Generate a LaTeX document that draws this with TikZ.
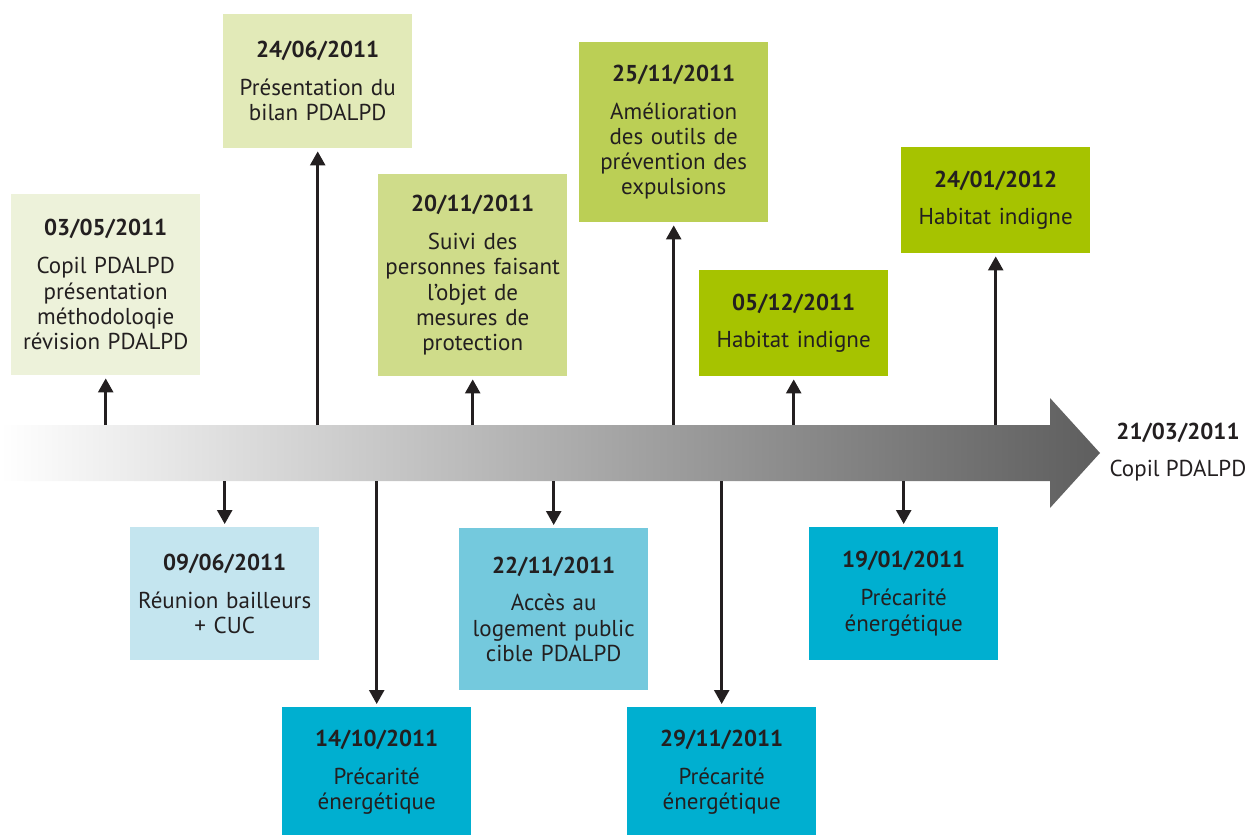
\documentclass[tikz,border=0pt]{standalone}
\usepackage{fontspec}
\setmainfont{PT Sans}
\usetikzlibrary{arrows.meta}
\definecolor{cA}{HTML}{EDF2DA}
\definecolor{cB}{HTML}{E2EAB8}
\definecolor{cC}{HTML}{CFDC8A}
\definecolor{cD}{HTML}{BBCF55}
\definecolor{cE}{HTML}{A6C300}
\definecolor{cF}{HTML}{C4E5EF}
\definecolor{cG}{HTML}{00AFD0}
\definecolor{cH}{HTML}{74C9DD}
\definecolor{ink}{HTML}{231F20}
\definecolor{barend}{HTML}{5E5E5E}
\tikzset{
  evbox/.style={anchor=north west, inner sep=0pt, minimum width=189pt, text width=189pt,
    align=center, text=ink, font=\fontsize{23}{25.3}\selectfont},
  evarrow/.style={draw=ink, line width=2.5pt, -{Triangle[width=15pt,length=14pt]}, shorten >=3pt},
}
\newcommand{\dt}[1]{{\bfseries #1}\\[12.5pt]}
\begin{document}
\begin{tikzpicture}[x=1pt,y=-1pt]
\useasboundingbox (0,0) rectangle (1251,835);
% main arrow
\shade[left color=white, right color=barend]
  (0,425) -- (1050,425) -- (1050,398) -- (1100,453) -- (1050,508) -- (1050,481) -- (0,481) -- cycle;
\coordinate (bartop) at (0,425);
\coordinate (barbot) at (0,481);
\node[anchor=center, text=ink, font=\fontsize{23}{25.3}\selectfont, align=center] (end) at (1178,452)
  {{\bfseries 21/03/2011}\\[11pt]Copil PDALPD};
% top boxes
\node[evbox, fill=cA, minimum height=181pt] (b1) at (11,194) {\dt{03/05/2011}Copil PDALPD\\présentation\\méthodoloqie\\révision PDALPD};
\node[evbox, fill=cB, minimum height=134pt] (b2) at (223,14) {\dt{24/06/2011}Présentation du\\bilan PDALPD};
\node[evbox, fill=cC, minimum height=202pt] (b3) at (378,174) {\dt{20/11/2011}Suivi des\\personnes faisant\\l'objet de\\mesures de\\protection};
\node[evbox, fill=cD, minimum height=180pt] (b4) at (579,42) {\dt{25/11/2011}Amélioration\\des outils de\\prévention des\\expulsions};
\node[evbox, fill=cE, minimum height=106pt] (b5) at (699,270) {\dt{05/12/2011}Habitat indigne};
\node[evbox, fill=cE, minimum height=106pt] (b6) at (901,147) {\dt{24/01/2012}Habitat indigne};
% bottom boxes
\node[evbox, fill=cF, minimum height=133pt] (b7) at (130,527) {\dt{09/06/2011}Réunion bailleurs\\+ CUC};
\node[evbox, fill=cG, minimum height=130pt] (b8) at (282,707) {\dt{14/10/2011}Précarité\\énergétique};
\node[evbox, fill=cH, minimum height=162pt] (b9) at (459,528) {\dt{22/11/2011}Accès au\\logement public\\cible PDALPD};
\node[evbox, fill=cG, minimum height=130pt] (b10) at (627,707) {\dt{29/11/2011}Précarité\\énergétique};
\node[evbox, fill=cG, minimum height=133pt] (b11) at (809,527) {\dt{19/01/2011}Précarité\\énergétique};
% connectors
\foreach \b in {b1,b2,b3,b4,b5,b6} \draw[evarrow] (\b.south |- bartop) -- (\b.south);
\foreach \b in {b7,b8,b9,b10,b11} \draw[evarrow] (\b.north |- barbot) -- (\b.north);
\end{tikzpicture}
\end{document}
